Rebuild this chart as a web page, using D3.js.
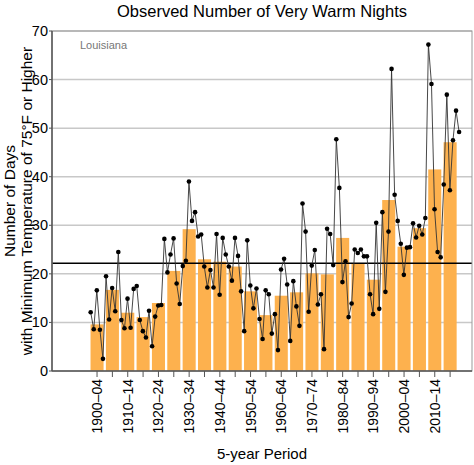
<!DOCTYPE html>
<html><head><meta charset="utf-8">
<script src="https://cdn.jsdelivr.net/npm/d3@7"></script>
<style>body{margin:0;background:#fff}text{font-family:"Liberation Sans",Arial,sans-serif}</style>
</head><body><div id="chart"></div>
<script>
var periodStarts = d3.range(1900, 2016, 5);
var periodLabels = periodStarts.map(function(y){ return y + "\u2013" + String((y + 4) % 100).padStart(2, "0"); });
var periodValues = [9.6, 16.7, 12.0, 11.1, 14.0, 20.6, 29.2, 23.0, 22.5, 21.5, 16.4, 11.5,
  15.5, 16.2, 20.1, 19.9, 27.4, 22.2, 18.8, 35.2, 25.6, 29.4, 41.5, 47.1];
var years = d3.range(1900, 2021);
var yearValues = [12.1, 8.6, 16.6, 8.5, 2.5, 19.5, 10.6, 17.1, 12.3, 24.5,
  10.5, 8.8, 14.9, 8.9, 16.9, 17.5, 10.5, 8.2, 6.9, 12.4,
  5.1, 11.2, 13.5, 13.6, 27.2, 20.3, 24.0, 27.3, 18.0, 13.8,
  21.6, 22.7, 39.0, 30.9, 32.7, 27.7, 28.1, 21.5, 17.2, 20.8,
  17.2, 28.2, 15.7, 27.4, 24.0, 21.5, 18.6, 27.4, 23.7, 16.4,
  8.2, 26.9, 17.6, 12.9, 17.0, 10.7, 6.6, 16.6, 15.8, 7.7,
  11.7, 4.3, 20.9, 23.1, 17.8, 6.2, 18.5, 13.3, 9.3, 34.5,
  28.7, 12.2, 21.7, 24.9, 13.7, 15.8, 4.5, 29.3, 28.2, 21.8,
  47.7, 37.7, 18.3, 22.6, 11.1, 13.9, 25.0, 24.3, 25.0, 23.6,
  23.6, 15.8, 11.7, 30.5, 12.8, 32.7, 16.3, 28.7, 62.2, 36.3,
  30.9, 26.2, 19.8, 25.4, 25.5, 30.4, 27.5, 29.9, 28.1, 31.5,
  67.2, 59.1, 33.3, 24.5, 23.4, 38.4, 56.9, 37.2, 47.5, 53.6, 49.2];
var longTermAverage = 22.2;
var yTicks = d3.range(0, 71, 10);

var W = 474, H = 465, L = 52, R = 472, T = 31, B = 371;
var svg = d3.select("#chart").append("svg").attr("width", W).attr("height", H);
var x = d3.scaleLinear().domain([1887.4, 2024.2]).range([L, R]);
var y = d3.scaleLinear().domain([0, 70]).range([B, T]);

svg.append("g").selectAll("line").data(yTicks.slice(1)).enter().append("line")
  .attr("x1", L).attr("x2", R).attr("y1", y).attr("y2", y)
  .attr("stroke", "#c8c8c8").attr("stroke-width", 1.5);

svg.append("g").selectAll("rect").data(periodValues).enter().append("rect")
  .attr("x", function(d, i){ return x(periodStarts[i] - 0.05); })
  .attr("width", function(d, i){ return x(periodStarts[i] + 4.2) - x(periodStarts[i] - 0.05); })
  .attr("y", function(d){ return y(d); })
  .attr("height", function(d){ return B - y(d); })
  .attr("fill", "#fdb14e");

svg.append("line").attr("x1", L).attr("x2", R)
  .attr("y1", y(longTermAverage)).attr("y2", y(longTermAverage))
  .attr("stroke", "#000").attr("stroke-width", 1.5);

var line = d3.line().x(function(d, i){ return x(years[i]); }).y(function(d){ return y(d); });
svg.append("path").datum(yearValues).attr("d", line)
  .attr("fill", "none").attr("stroke", "#333").attr("stroke-width", 0.9);
svg.append("g").selectAll("circle").data(yearValues).enter().append("circle")
  .attr("cx", function(d, i){ return x(years[i]); }).attr("cy", y).attr("r", 2.3).attr("fill", "#000");

// frame
svg.append("rect").attr("x", L).attr("y", T).attr("width", R - L).attr("height", B - T)
  .attr("fill", "none").attr("stroke", "#999");
svg.append("line").attr("x1", L).attr("x2", L).attr("y1", T).attr("y2", B).attr("stroke", "#555").attr("stroke-width", 1.5);
svg.append("line").attr("x1", L).attr("x2", R).attr("y1", B).attr("y2", B).attr("stroke", "#555").attr("stroke-width", 1.5);

var yAxis = svg.append("g");
yAxis.selectAll("line").data(yTicks).enter().append("line")
  .attr("x1", L - 3).attr("x2", L).attr("y1", y).attr("y2", y).attr("stroke", "#555");
yAxis.selectAll("text").data(yTicks).enter().append("text")
  .attr("x", L - 4).attr("y", function(d){ return y(d) + 5; }).attr("text-anchor", "end")
  .attr("font-size", 14.5).text(function(d){ return d; });

var centers = periodStarts.map(function(s){ return x(s + 2.07); });
svg.append("g").selectAll("line").data(centers).enter().append("line")
  .attr("x1", function(d){ return d; }).attr("x2", function(d){ return d; })
  .attr("y1", B).attr("y2", B + 6).attr("stroke", "#555");
svg.append("g").selectAll("text").data(periodLabels.filter(function(d, i){ return i % 2 === 0; })).enter().append("text")
  .attr("transform", function(d, i){ return "translate(" + (centers[i * 2] + 5) + "," + (B + 8) + ") rotate(-90)"; })
  .attr("text-anchor", "end").attr("font-size", 14).text(function(d){ return d; });

svg.append("text").attr("x", 262).attr("y", 17).attr("text-anchor", "middle").attr("font-size", 16.5)
  .text("Observed Number of Very Warm Nights");
svg.append("text").attr("x", 80).attr("y", 49).attr("font-size", 11).attr("fill", "#777").text("Louisiana");
svg.append("text").attr("x", 262).attr("y", 459).attr("text-anchor", "middle").attr("font-size", 15).text("5-year Period");
svg.append("text").attr("transform", "translate(15,201) rotate(-90)").attr("text-anchor", "middle")
  .attr("font-size", 15.5).text("Number of Days");
svg.append("text").attr("transform", "translate(32,201) rotate(-90)").attr("text-anchor", "middle")
  .attr("font-size", 15.5).text("with Minimum Temperature of 75\u00B0F or Higher");
</script></body></html>
